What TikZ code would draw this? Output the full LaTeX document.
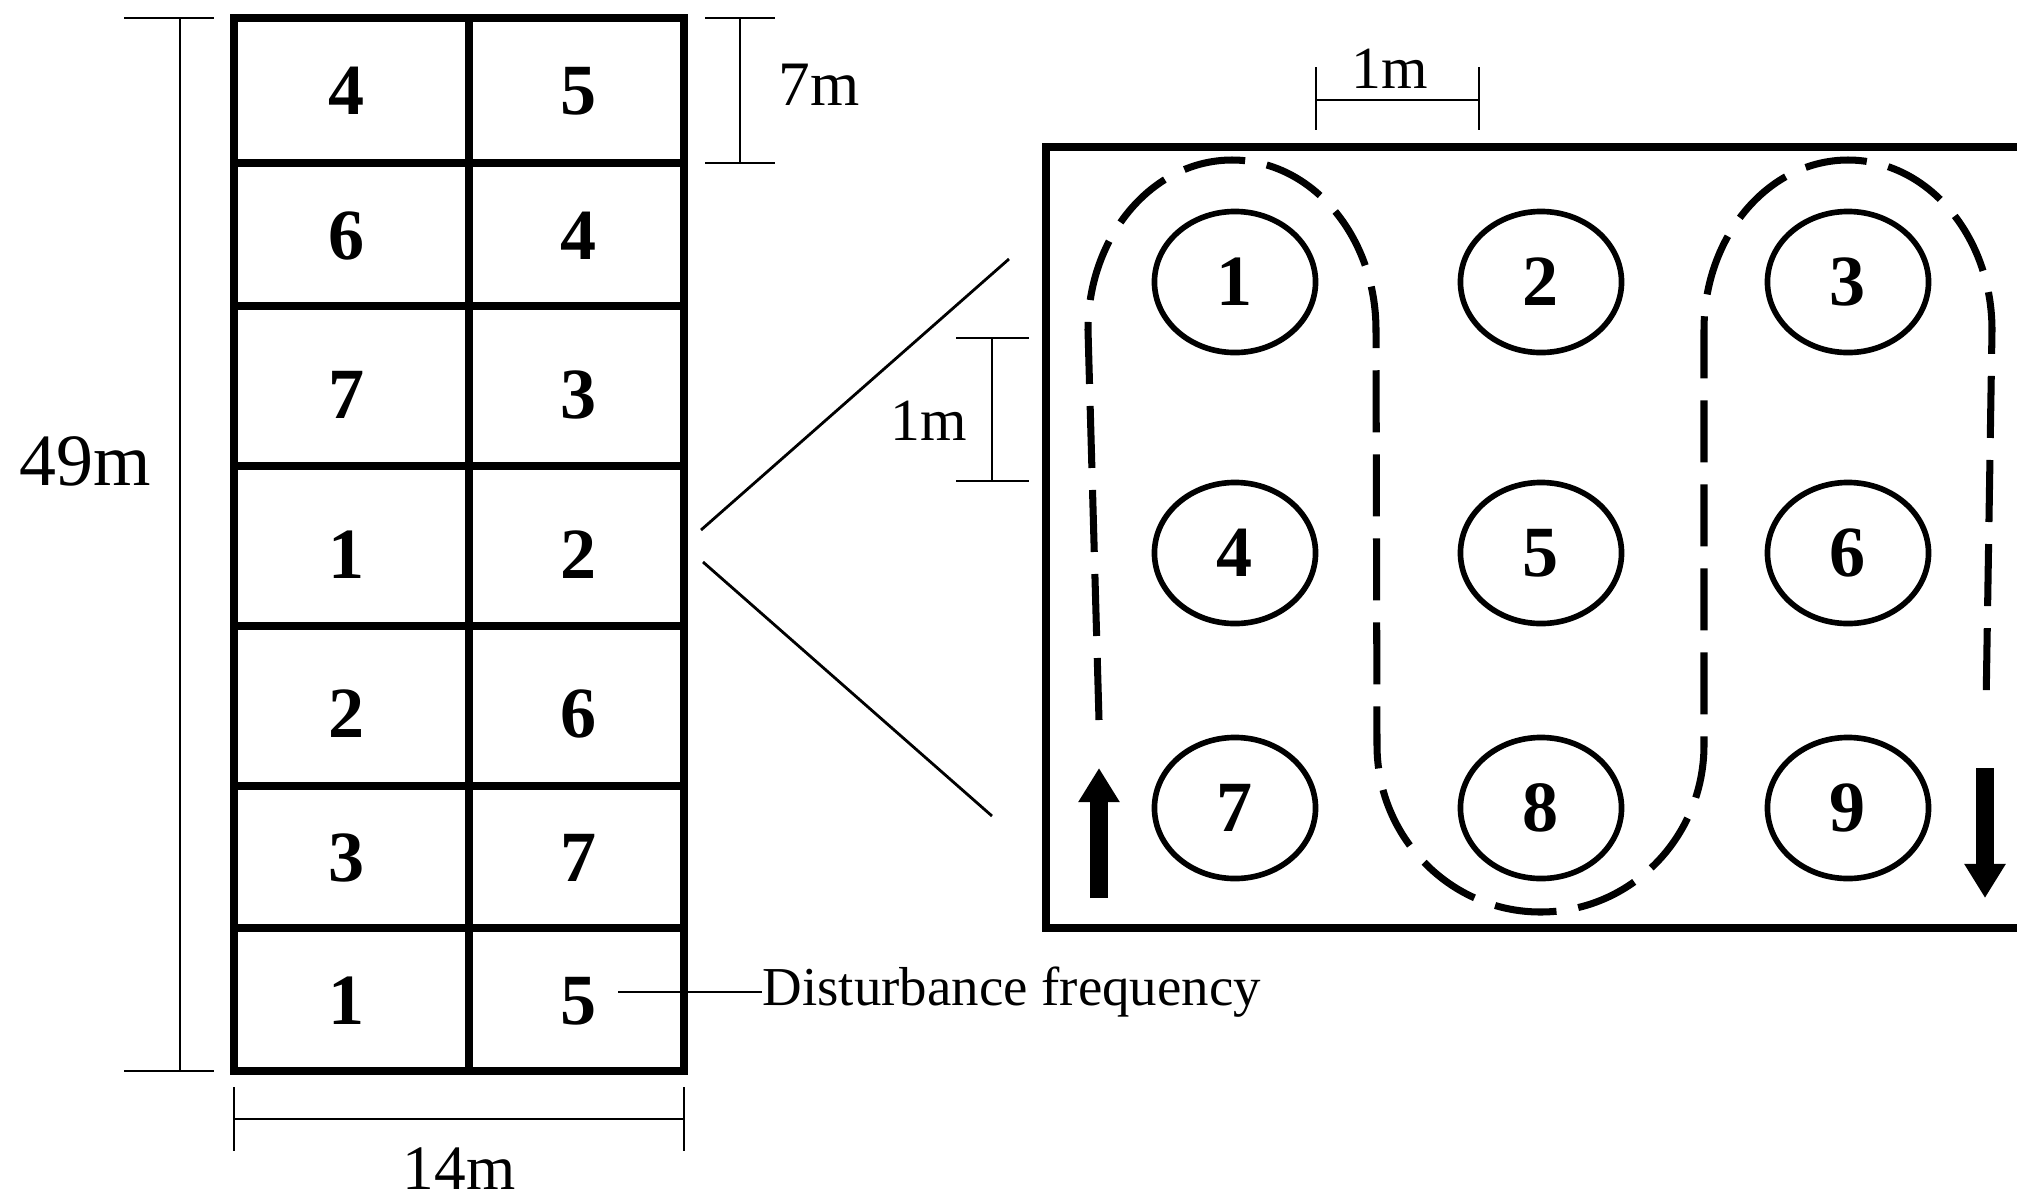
\documentclass[tikz,border=0pt]{standalone}
\usepackage{fontspec}
\setmainfont{Liberation Serif}
\usepackage{tikz}
\usetikzlibrary{shapes.geometric, arrows.meta}

\tikzset{
  gridline/.style={line width=2.1pt},
  dimline/.style={line width=0.8pt},
  cellnum/.style={font=\fontsize{20.5}{24}\selectfont\bfseries},
  dimlabel/.style={font=\fontsize{18}{22}\selectfont},
  plant/.style={draw, ellipse, line width=1.6pt, minimum width=1.61cm, minimum height=1.41cm,
    inner sep=0pt, font=\fontsize{20.5}{24}\selectfont\bfseries},
  route/.style={line width=2pt, dash pattern=on 0.62cm off 0.22cm},
  flow/.style={line width=0.18cm, -{Triangle[length=3.4mm,width=3.9mm]}},
}

\begin{document}
\begin{tikzpicture}[x=0.01cm, y=-0.01cm]
        \useasboundingbox (0,0) rectangle (2017,1202);

        % plot grid
        \draw[gridline] (234,18) rectangle (684,1071);
        \draw[gridline] (469,18) -- (469,1071);
        \draw[gridline] (234,163) -- (684,163);
        \draw[gridline] (234,306) -- (684,306);
        \draw[gridline] (234,466) -- (684,466);
        \draw[gridline] (234,626) -- (684,626);
        \draw[gridline] (234,786) -- (684,786);
        \draw[gridline] (234,928) -- (684,928);

        \node[cellnum] (c11) at (347,91) {4};
        \node[cellnum] (c12) at (579,91) {5};
        \node[cellnum] (c21) at (347,236) {6};
        \node[cellnum] (c22) at (579,236) {4};
        \node[cellnum] (c31) at (347,395) {7};
        \node[cellnum] (c32) at (579,395) {3};
        \node[cellnum] (c41) at (347,555) {1};
        \node[cellnum] (c42) at (579,555) {2};
        \node[cellnum] (c51) at (347,714) {2};
        \node[cellnum] (c52) at (579,714) {6};
        \node[cellnum] (c61) at (347,858) {3};
        \node[cellnum] (c62) at (579,858) {7};
        \node[cellnum] (c71) at (347,1001) {1};
        \node[cellnum] (c72) at (579,1001) {5};

        % dimensions of the plot
        \draw[dimline] (124,18) -- (214,18);
        \draw[dimline] (124,1071) -- (214,1071);
        \draw[dimline] (180,18) -- (180,1071);
        \node[font=\fontsize{21}{25}\selectfont] (len49) at (85,461) {49m};

        \draw[dimline] (705,18) -- (775,18);
        \draw[dimline] (705,163) -- (775,163);
        \draw[dimline] (740,18) -- (740,163);
        \node[dimlabel] (len7) at (819,85) {7m};

        \draw[dimline] (234,1087) -- (234,1151);
        \draw[dimline] (684,1087) -- (684,1151);
        \draw[dimline] (234,1119) -- (684,1119);
        \node[dimlabel] (len14) at (459,1169) {14m};

        % label of the cell value
        \coordinate (df) at (618,992);
        \node[font=\fontsize{15.6}{19}\selectfont, anchor=base west, inner sep=0pt] (dflabel) at (762,1005) {Disturbance frequency};
        \draw[dimline] (df) -- (df -| dflabel.west);

        % enlarged subplot
        \coordinate (zoomA) at (701,530);
        \coordinate (zoomB) at (1009,259);
        \coordinate (zoomC) at (703,562);
        \coordinate (zoomD) at (992,816);
        \draw[dimline] (zoomA) -- (zoomB);
        \draw[dimline] (zoomC) -- (zoomD);

        \draw[gridline] (2017,147) -- (1046,147) -- (1046,928) -- (2017,928);

        \draw[dimline] (1316,67) -- (1316,130);
        \draw[dimline] (1479,67) -- (1479,130);
        \draw[dimline] (1316,100) -- (1479,100);
        \node[font=\fontsize{17}{20}\selectfont] (gapx) at (1390,69) {1m};

        \draw[dimline] (956,338) -- (1029,338);
        \draw[dimline] (956,481) -- (1029,481);
        \draw[dimline] (992,338) -- (992,481);
        \node[font=\fontsize{17}{20}\selectfont] (gapy) at (929,421) {1m};

        \node[plant] (p1) at (1235,282) {1};
        \node[plant] (p2) at (1541,282) {2};
        \node[plant] (p3) at (1848,282) {3};
        \node[plant] (p4) at (1235,553) {4};
        \node[plant] (p5) at (1541,553) {5};
        \node[plant] (p6) at (1848,553) {6};
        \node[plant] (p7) at (1235,808) {7};
        \node[plant] (p8) at (1541,808) {8};
        \node[plant] (p9) at (1848,808) {9};

        % sampling route
        \draw[route] (1099,720) -- (1088,330)
            arc[start angle=180, end angle=360, x radius=144, y radius=170]
            -- (1377,745)
            arc[start angle=180, end angle=0, x radius=163.5, y radius=167]
            -- (1704,330)
            arc[start angle=180, end angle=360, x radius=144, y radius=170]
            -- (1986,708);

        \coordinate (inS) at (1099,898);
        \coordinate (inE) at (1099,768);
        \coordinate (outS) at (1985,768);
        \coordinate (outE) at (1985,898);
        \draw[flow] (inS) -- (inE);
        \draw[flow] (outS) -- (outE);
\end{tikzpicture}
\end{document}
